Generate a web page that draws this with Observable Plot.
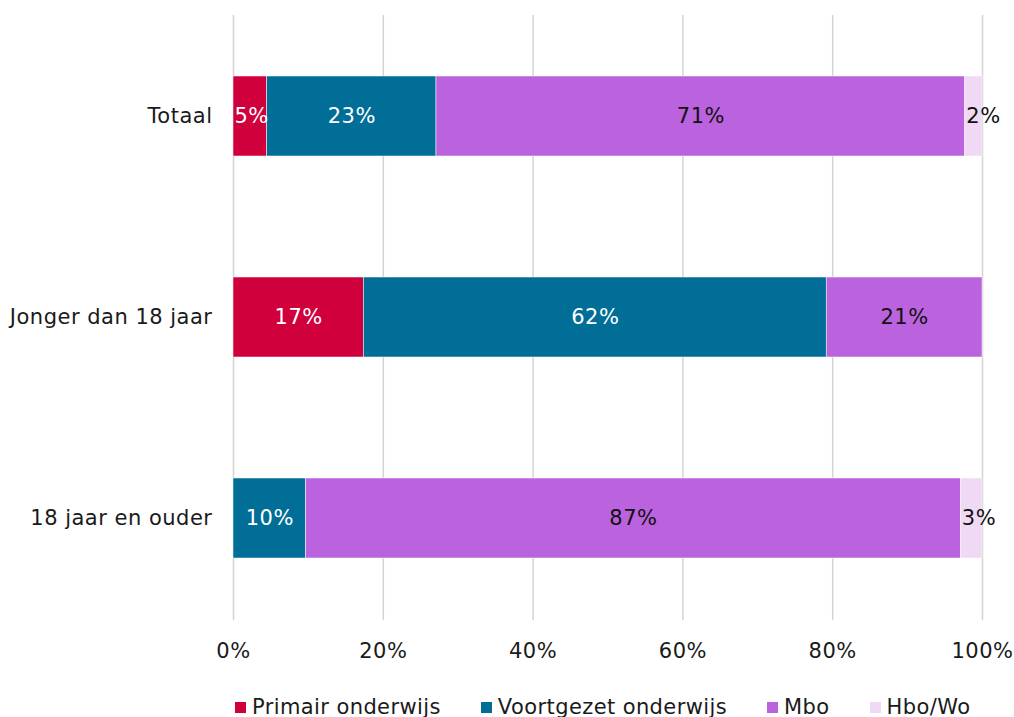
<!DOCTYPE html>
<html>
<head>
<meta charset="utf-8">
<script src="https://cdn.jsdelivr.net/npm/d3@7"></script>
<script src="https://cdn.jsdelivr.net/npm/@observablehq/plot@0.6"></script>
<style>
  body { margin: 0; background: #fff; font-family: "DejaVu Sans", Verdana, sans-serif; color: #1a1a1a; }
  svg text { letter-spacing: 0.5px; }
  #legend { display: flex; align-items: center; margin-left: 235px; margin-top: 14px; font-size: 21px; letter-spacing: 0.4px; line-height: 26px; white-space: nowrap; }
  .item { display: flex; align-items: center; margin-right: 40px; }
  .sw { width: 11px; height: 11px; margin-right: 6px; }
</style>
</head>
<body>
<div id="chart"></div>
<div id="legend"></div>
<script>
const categories = ["Totaal", "Jonger dan 18 jaar", "18 jaar en ouder"];
const series = ["Primair onderwijs", "Voortgezet onderwijs", "Mbo", "Hbo/Wo"];
const colors = ["#d0003c", "#006e96", "#bb62de", "#efd9f4"];
const primair = [4.5, 17.4, 0];
const voortgezet = [22.6, 61.8, 9.7];
const mbo = [70.6, 20.8, 87.4];
const hbo = [2.3, 0, 2.9];
const xTicks = [0, 20, 40, 60, 80, 100];

const seriesValues = [primair, voortgezet, mbo, hbo];
const whiteText = new Set(["Primair onderwijs", "Voortgezet onderwijs"]);
const data = [];
categories.forEach((c, i) => {
  series.forEach((s, j) => {
    data.push({cat: c, series: s, value: seriesValues[j][i]});
  });
});
const lab = d => Math.round(d.value) + "%";
const small = d => d.value > 0 && d.value < 5;
const big = d => d.value >= 5;

const common = {x: "value", y: "cat", z: "series"};

const chart = Plot.plot({
  width: 1014,
  height: 680,
  marginLeft: 233,
  marginRight: 32,
  marginTop: 15,
  marginBottom: 60,
  style: {fontFamily: "DejaVu Sans, Verdana, sans-serif", fontSize: "21px", color: "#1a1a1a", background: "white"},
  x: {domain: [0, 100], label: null},
  y: {domain: categories, paddingInner: 0.6, paddingOuter: 0.3, label: null},
  color: {domain: series, range: colors},
  marks: [
    Plot.gridX(xTicks, {stroke: "#d4d4d4", strokeOpacity: 1, strokeWidth: 1.5}),
    Plot.barX(data, Plot.stackX({...common, fill: "series", stroke: "white", strokeWidth: 0.5})),
    Plot.text(data, Plot.stackX({...common, text: d => big(d) && whiteText.has(d.series) ? lab(d) : "", fill: "white", fontSize: 21})),
    Plot.text(data, Plot.stackX({...common, text: d => big(d) && !whiteText.has(d.series) ? lab(d) : "", fill: "#111", fontSize: 21})),
    Plot.text(data, Plot.stackX1({...common, text: d => small(d) && whiteText.has(d.series) ? lab(d) : "", fill: "white", textAnchor: "start", dx: 1, fontSize: 21})),
    Plot.text(data, Plot.stackX1({...common, text: d => small(d) && !whiteText.has(d.series) ? lab(d) : "", fill: "#111", textAnchor: "start", dx: 1, fontSize: 21})),
    Plot.axisX({ticks: xTicks, tickFormat: d => d + "%", tickSize: 0, tickPadding: 23, fontSize: 21, label: null}),
    Plot.axisY({tickSize: 0, tickPadding: 21, fontSize: 21, label: null})
  ]
});
document.getElementById("chart").appendChild(chart);

const legend = document.getElementById("legend");
series.forEach((s, i) => {
  const it = document.createElement("div");
  it.className = "item";
  it.innerHTML = `<span class="sw" style="background:${colors[i]}"></span><span>${s}</span>`;
  legend.appendChild(it);
});
</script>
</body>
</html>
